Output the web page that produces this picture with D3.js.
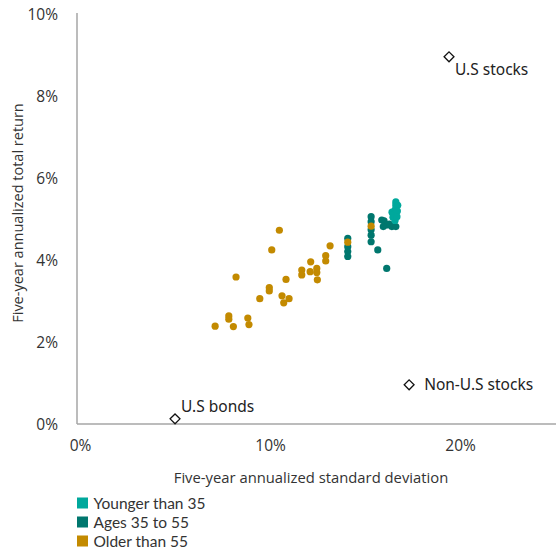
<!DOCTYPE html>
<html>
<head>
<meta charset="utf-8">
<script src="https://cdn.jsdelivr.net/npm/d3@7"></script>
<style>
  body { margin: 0; background: #fff; }
  text { font-family: "Open Sans", sans-serif; fill: #333; }
</style>
</head>
<body>
<div id="chart"></div>
<script>
// series values: [standard deviation %, total return %]
var olderThan55 = [
  [10.49, 4.75], [10.09, 4.27], [8.21, 3.61], [11.67, 3.78], [11.67, 3.66],
  [12.14, 3.98], [12.11, 3.74], [12.46, 3.82], [12.46, 3.72], [12.49, 3.54],
  [12.93, 4.13], [12.93, 4.00], [13.16, 4.37], [10.84, 3.55], [9.96, 3.35],
  [9.96, 3.27], [9.46, 3.08], [10.63, 3.15], [11.0, 3.08], [10.72, 2.98],
  [7.83, 2.66], [7.83, 2.58], [7.11, 2.41], [8.07, 2.40], [8.83, 2.61],
  [8.89, 2.45], [14.09, 4.46], [15.32, 4.85]
];
var ages35to55 = [
  [14.09, 4.55], [14.09, 4.35], [14.09, 4.23], [14.09, 4.11],
  [15.32, 5.08], [15.32, 4.96], [15.32, 4.76], [15.32, 4.63], [15.32, 4.47],
  [15.67, 4.27], [16.14, 3.82],
  [15.88, 5.0], [16.0, 4.98], [16.14, 4.88], [16.28, 4.9], [16.41, 4.84],
  [16.62, 4.84], [15.96, 4.84]
];
var youngerThan35 = [
  [16.62, 5.44], [16.63, 5.39], [16.62, 5.34], [16.58, 5.24], [16.42, 5.19],
  [16.58, 5.15], [16.47, 5.07], [16.58, 4.99], [16.72, 5.36], [16.7, 5.22],
  [16.68, 5.08]
];
var benchmarks = ["U.S stocks", "Non-U.S stocks", "U.S bonds"];
var benchmarkValues = [[19.42, 8.98], [17.32, 0.98], [5.0, 0.15]];

var seriesNames = ["Younger than 35", "Ages 35 to 55", "Older than 55"];
var seriesColors = ["#00a89c", "#00776e", "#c38a00"];

var xTicks = [0, 10, 20];
var yTicks = [0, 2, 4, 6, 8, 10];

var W = 556, H = 552;
var svg = d3.select('#chart').append('svg')
  .attr('width', W)
  .attr('height', H);

var x = d3.scaleLinear().domain([-0.16, 25.05]).range([77, 556]);
var y = d3.scaleLinear().domain([0, 10]).range([425, 15]);

// axes
var xAxis = svg.append('g')
  .attr('transform', 'translate(0,424)')
  .call(d3.axisBottom(x).tickValues(xTicks).tickSize(0).tickPadding(16)
    .tickFormat(function(d) { return d + '%'; }));
xAxis.select('.domain').remove();
xAxis.selectAll('text').attr('font-size', 15.5).style('font-family', '"Open Sans", sans-serif');

var yAxis = svg.append('g')
  .attr('transform', 'translate(58,0)')
  .call(d3.axisLeft(y).tickValues(yTicks).tickSize(0).tickPadding(0)
    .tickFormat(function(d) { return d + '%'; }));
yAxis.select('.domain').remove();
yAxis.selectAll('text').attr('font-size', 15.5).style('font-family', '"Open Sans", sans-serif');

svg.append('line')
  .attr('x1', 77).attr('x2', 77).attr('y1', 13).attr('y2', 424)
  .attr('stroke', '#a6a6a6').attr('stroke-width', 1.5);
svg.append('line')
  .attr('x1', 77).attr('x2', W).attr('y1', 424).attr('y2', 424)
  .attr('stroke', '#a6a6a6').attr('stroke-width', 1.5);

// axis titles
svg.append('text')
  .attr('x', 311).attr('y', 483)
  .attr('text-anchor', 'middle')
  .attr('font-size', 14.8)
  .text('Five-year annualized standard deviation');
svg.append('text')
  .attr('transform', 'translate(23,213) rotate(-90)')
  .attr('text-anchor', 'middle')
  .attr('font-size', 14.5)
  .text('Five-year annualized total return');

// dots
function drawDots(data, color) {
  svg.append('g').selectAll('circle')
    .data(data)
    .enter().append('circle')
    .attr('cx', function(d) { return x(d[0]); })
    .attr('cy', function(d) { return y(d[1]); })
    .attr('r', 3.6)
    .attr('fill', color);
}
drawDots(ages35to55, seriesColors[1]);
drawDots(youngerThan35, seriesColors[0]);
drawDots(olderThan55, seriesColors[2]);

// benchmark diamonds
var labelOffsets = [[6, 18], [15, 5], [6, -7]];
var bm = svg.append('g').selectAll('g')
  .data(benchmarkValues)
  .enter().append('g')
  .attr('transform', function(d) { return 'translate(' + x(d[0]) + ',' + y(d[1]) + ')'; });
bm.append('path')
  .attr('d', d3.symbol().type(d3.symbolDiamond2).size(62))
  .attr('fill', '#fff')
  .attr('stroke', '#111')
  .attr('stroke-width', 1.3);
bm.append('text')
  .attr('x', function(d, i) { return labelOffsets[i][0]; })
  .attr('y', function(d, i) { return labelOffsets[i][1]; })
  .attr('font-size', 15.5)
  .style('font-family', '"Noto Sans", sans-serif')
  .style('fill', '#222')
  .text(function(d, i) { return benchmarks[i]; });

// legend
var legend = svg.append('g').selectAll('g')
  .data(seriesNames)
  .enter().append('g')
  .attr('transform', function(d, i) { return 'translate(77,' + (503 + i * 19) + ')'; });
legend.append('rect')
  .attr('x', 0).attr('y', -5.5)
  .attr('width', 11).attr('height', 11)
  .attr('fill', function(d, i) { return seriesColors[i]; });
legend.append('text')
  .attr('x', 16.5).attr('y', 5.5)
  .attr('font-size', 15.5)
  .style('font-family', 'Lato, sans-serif')
  .text(function(d) { return d; });
</script>
</body>
</html>
